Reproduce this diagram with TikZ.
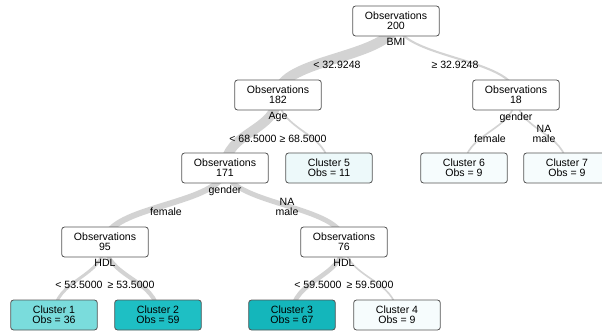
\documentclass[tikz,border=0pt]{standalone}
\usepackage{fontspec}
\setmainfont{Liberation Sans}
\usetikzlibrary{calc, positioning, backgrounds}
\definecolor{vtedge}{HTML}{D3D3D3}
\definecolor{vtborder}{HTML}{555555}
\definecolor{vtone}{HTML}{7ADCDC}
\definecolor{vttwo}{HTML}{1EBFC4}
\definecolor{vtthree}{HTML}{14B6BB}
\definecolor{vtpale}{HTML}{F6FCFD}
\definecolor{vtfive}{HTML}{EDF9FA}

\begin{document}
\begin{tikzpicture}[x=0.03cm, y=-0.03cm,
    every node/.style={font=\fontsize{9}{8.5}\selectfont, align=center},
    obsbox/.style={draw=vtborder, line width=0.7pt, rounded corners=2.5pt, fill=white,
        minimum width=2.6cm, minimum height=0.9cm, inner sep=1pt},
    varlbl/.style={inner sep=1pt},
    edgelbl/.style={inner sep=1pt},
    treeedge/.style={draw=vtedge, line cap=round,
        to path={.. controls ($(\tikztostart)!0.5!(\tikztostart|-\tikztotarget)$)
            and ($(\tikztotarget)!0.5!(\tikztotarget|-\tikztostart)$) .. (\tikztotarget)}}]
    \useasboundingbox (0,0) rectangle (602,335);

    % Split nodes
    \node[obsbox] (root) at (396,21) {Observations\\200};
    \node[obsbox] (n182) at (278,95) {Observations\\182};
    \node[obsbox] (n18) at (516,95) {Observations\\18};
    \node[obsbox] (n171) at (225,168) {Observations\\171};
    \node[obsbox] (n95) at (105,242) {Observations\\95};
    \node[obsbox] (n76) at (344,242) {Observations\\76};

    % Split variables
    \node[varlbl, below=0.5pt of root] (vroot) {BMI};
    \node[varlbl, below=0.5pt of n182] (v182) {Age};
    \node[varlbl, below=0.5pt of n18] (v18) {gender};
    \node[varlbl, below=0.5pt of n171] (v171) {gender};
    \node[varlbl, below=0.5pt of n95] (v95) {HDL};
    \node[varlbl, below=0.5pt of n76] (v76) {HDL};

    % Leaf clusters
    \node[obsbox, fill=vtone] (c1) at (54,315) {Cluster 1\\Obs = 36};
    \node[obsbox, fill=vttwo] (c2) at (158,315) {Cluster 2\\Obs = 59};
    \node[obsbox, fill=vtthree] (c3) at (292,315) {Cluster 3\\Obs = 67};
    \node[obsbox, fill=vtpale] (c4) at (397,315) {Cluster 4\\Obs = 9};
    \node[obsbox, fill=vtfive] (c5) at (329,168) {Cluster 5\\Obs = 11};
    \node[obsbox, fill=vtpale] (c6) at (464,168) {Cluster 6\\Obs = 9};
    \node[obsbox, fill=vtpale] (c7) at (567,168) {Cluster 7\\Obs = 9};

    % Branches, width by number of observations
    \begin{scope}[on background layer]
        \foreach \a/\b/\n in {root/n182/182, root/n18/18, n182/n171/171, n182/c5/11,
                n18/c6/9, n18/c7/9, n171/n95/95, n171/n76/76,
                n95/c1/36, n95/c2/59, n76/c3/67, n76/c4/9}
            \draw[treeedge, line width={(1.2+\n/20)*0.85pt}] (\a.center) to (\b.center);
    \end{scope}

    % Branch labels
    \node[edgelbl] (l1) at (337,65) {< 32.9248};
    \node[edgelbl] (l2) at (455,65) {≥ 32.9248};
    \node[edgelbl] (l3) at (253,139) {< 68.5000};
    \node[edgelbl] (l4) at (303,139) {≥ 68.5000};
    \node[edgelbl] (l5) at (490,139) {female};
    \node[edgelbl] (l6) at (544,134) {NA\\male};
    \node[edgelbl] (l7) at (166,212) {female};
    \node[edgelbl] (l8) at (287,207) {NA\\male};
    \node[edgelbl] (l9) at (79,285) {< 53.5000};
    \node[edgelbl] (l10) at (131,285) {≥ 53.5000};
    \node[edgelbl] (l11) at (318,285) {< 59.5000};
    \node[edgelbl] (l12) at (370,285) {≥ 59.5000};
\end{tikzpicture}
\end{document}
